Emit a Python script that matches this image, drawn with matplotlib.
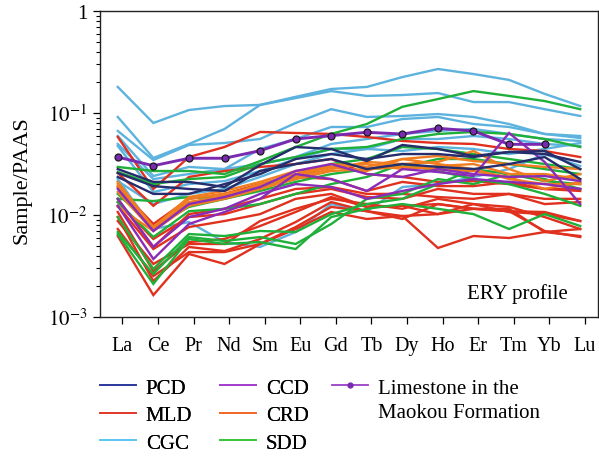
import numpy as np
import matplotlib
matplotlib.use("Agg")
import matplotlib.pyplot as plt
from matplotlib.lines import Line2D

plt.rcParams['font.family'] = ['Liberation Serif', 'DejaVu Serif']
plt.rcParams['mathtext.fontset'] = 'stix'

elements = ["La", "Ce", "Pr", "Nd", "Sm", "Eu", "Gd", "Tb", "Dy", "Ho", "Er", "Tm", "Yb", "Lu"]

pcd = [
    [0.0282, 0.0211, 0.0211, 0.0188, 0.0309, 0.0464, 0.0444, 0.0338, 0.0486, 0.0444, 0.0379, 0.0415, 0.0424, 0.0282],
    [0.0258, 0.0192, 0.0180, 0.0172, 0.0270, 0.0316, 0.0354, 0.0282, 0.0316, 0.0296, 0.0282, 0.0316, 0.0370, 0.0225],
    [0.0236, 0.0161, 0.0161, 0.0201, 0.0252, 0.0354, 0.0396, 0.0354, 0.0396, 0.0396, 0.0370, 0.0415, 0.0396, 0.0331],
]
ccd = [
    [0.0123, 0.00370, 0.00816, 0.0107, 0.0144, 0.0252, 0.0225, 0.0172, 0.0282, 0.0264, 0.0241, 0.0637, 0.0331, 0.0128],
    [0.0180, 0.00697, 0.0128, 0.0150, 0.0188, 0.0270, 0.0316, 0.0252, 0.0236, 0.0282, 0.0252, 0.0236, 0.0241, 0.0215],
    [0.0144, 0.00486, 0.00955, 0.0115, 0.0161, 0.0201, 0.0188, 0.0144, 0.0172, 0.0201, 0.0225, 0.0211, 0.0201, 0.0180],
]
mld = [
    [0.0582, 0.0180, 0.0370, 0.0464, 0.0652, 0.0637, 0.0623, 0.0582, 0.0532, 0.0508, 0.0497, 0.0444, 0.0424, 0.0370],
    [0.0258, 0.0123, 0.0236, 0.0270, 0.0296, 0.0316, 0.0354, 0.0252, 0.0236, 0.0211, 0.0215, 0.0201, 0.0180, 0.0180],
    [0.0188, 0.00816, 0.0144, 0.0161, 0.0201, 0.0236, 0.0225, 0.0172, 0.0211, 0.0192, 0.0192, 0.0211, 0.0180, 0.0172],
    [0.0144, 0.00486, 0.0102, 0.0115, 0.0144, 0.0180, 0.0188, 0.0161, 0.0161, 0.0150, 0.0144, 0.0161, 0.0128, 0.0134],
    [0.0123, 0.00464, 0.00762, 0.00873, 0.0102, 0.0144, 0.0161, 0.0120, 0.0123, 0.0128, 0.0115, 0.0109, 0.0107, 0.00873],
    [0.0107, 0.00282, 0.00543, 0.00582, 0.00780, 0.0107, 0.0150, 0.0120, 0.0123, 0.0102, 0.0128, 0.0120, 0.00955, 0.00729],
    [0.00955, 0.00225, 0.00486, 0.00443, 0.00582, 0.00853, 0.0134, 0.0109, 0.00977, 0.00475, 0.00622, 0.00595, 0.00681, 0.00622],
    [0.00729, 0.00252, 0.00433, 0.00433, 0.00520, 0.00762, 0.0120, 0.0109, 0.00914, 0.0128, 0.0115, 0.0115, 0.00681, 0.00729],
    [0.00622, 0.00164, 0.00415, 0.00331, 0.00520, 0.00729, 0.0107, 0.00914, 0.00977, 0.0102, 0.0115, 0.0109, 0.00697, 0.00608],
    [0.00873, 0.00331, 0.00520, 0.00520, 0.00873, 0.0115, 0.0144, 0.0128, 0.0115, 0.0144, 0.0128, 0.0107, 0.0102, 0.00873],
    [0.0134, 0.00582, 0.00955, 0.0102, 0.0128, 0.0161, 0.0180, 0.0150, 0.0144, 0.0180, 0.0161, 0.0161, 0.0144, 0.0144],
]
crd = [
    [0.0211, 0.00746, 0.0128, 0.0150, 0.0180, 0.0236, 0.0282, 0.0331, 0.0316, 0.0331, 0.0424, 0.0282, 0.0215, 0.0252],
    [0.0192, 0.00729, 0.0134, 0.0154, 0.0201, 0.0252, 0.0316, 0.0296, 0.0354, 0.0379, 0.0338, 0.0316, 0.0296, 0.0282],
    [0.0168, 0.00697, 0.0123, 0.0144, 0.0180, 0.0225, 0.0270, 0.0282, 0.0296, 0.0282, 0.0270, 0.0236, 0.0180, 0.0211],
    [0.0120, 0.00697, 0.0144, 0.0161, 0.0192, 0.0247, 0.0296, 0.0316, 0.0282, 0.0302, 0.0316, 0.0252, 0.0252, 0.0225],
    [0.0201, 0.00762, 0.0150, 0.0172, 0.0211, 0.0270, 0.0296, 0.0270, 0.0354, 0.0316, 0.0282, 0.0225, 0.0201, 0.0201],
]
cgc = [
    [0.180, 0.0798, 0.107, 0.117, 0.120, 0.144, 0.172, 0.180, 0.225, 0.270, 0.241, 0.211, 0.154, 0.117],
    [0.0914, 0.0362, 0.0497, 0.0697, 0.120, 0.140, 0.164, 0.147, 0.150, 0.157, 0.128, 0.128, 0.109, 0.0935],
    [0.0667, 0.0346, 0.0486, 0.0508, 0.0556, 0.0798, 0.109, 0.0914, 0.0935, 0.0977, 0.0914, 0.0780, 0.0623, 0.0595],
    [0.0595, 0.0241, 0.0296, 0.0282, 0.0444, 0.0556, 0.0729, 0.0729, 0.0873, 0.0914, 0.0780, 0.0729, 0.0623, 0.0569],
    [0.0497, 0.0225, 0.0252, 0.0282, 0.0316, 0.0370, 0.0497, 0.0556, 0.0623, 0.0667, 0.0697, 0.0623, 0.0556, 0.0532],
    [0.0475, 0.0168, 0.0201, 0.0215, 0.0270, 0.0354, 0.0444, 0.0444, 0.0556, 0.0556, 0.0595, 0.0556, 0.0497, 0.0475],
    [0.0225, 0.00729, 0.00853, 0.00543, 0.00486, 0.00681, 0.0128, 0.0109, 0.0188, 0.0201, 0.0236, 0.0282, 0.0396, 0.0302],
    [0.0215, 0.0128, 0.0161, 0.0180, 0.0236, 0.0316, 0.0396, 0.0444, 0.0424, 0.0464, 0.0444, 0.0396, 0.0444, 0.0508],
]
sdd = [
    [0.0296, 0.0270, 0.0270, 0.0252, 0.0338, 0.0464, 0.0623, 0.0780, 0.115, 0.137, 0.164, 0.147, 0.131, 0.109],
    [0.0264, 0.0201, 0.0225, 0.0236, 0.0316, 0.0370, 0.0444, 0.0464, 0.0556, 0.0623, 0.0652, 0.0623, 0.0556, 0.0464],
    [0.0161, 0.00762, 0.0120, 0.0144, 0.0188, 0.0225, 0.0316, 0.0354, 0.0464, 0.0444, 0.0396, 0.0354, 0.0316, 0.0282],
    [0.0134, 0.00608, 0.0109, 0.0115, 0.0128, 0.0161, 0.0201, 0.0236, 0.0316, 0.0270, 0.0225, 0.0201, 0.0161, 0.0123],
    [0.00955, 0.00296, 0.00651, 0.00622, 0.00697, 0.00681, 0.0102, 0.0128, 0.0144, 0.0201, 0.0282, 0.0252, 0.0225, 0.0180],
    [0.00651, 0.00211, 0.00582, 0.00520, 0.00543, 0.00464, 0.00955, 0.0115, 0.0128, 0.0115, 0.0102, 0.00729, 0.0102, 0.00780],
    [0.00681, 0.00264, 0.00608, 0.00556, 0.00608, 0.00520, 0.00816, 0.0144, 0.0161, 0.0225, 0.0201, 0.0252, 0.0215, 0.0201],
    [0.0144, 0.0137, 0.0150, 0.0144, 0.0172, 0.0211, 0.0252, 0.0282, 0.0296, 0.0354, 0.0354, 0.0316, 0.0282, 0.0252],
]
limestone = [0.0370, 0.0304, 0.0360, 0.0360, 0.0427, 0.0556, 0.0600, 0.0647, 0.0622, 0.0708, 0.0666, 0.0493, 0.0493, np.nan]

colors = {
    "PCD": "#252d6c", "MLD": "#e0301e", "CGC": "#5db3de",
    "CCD": "#8a2cb8", "CRD": "#f07d1f", "SDD": "#1fb03a",
}
legend_colors = {
    "PCD": "#2e3c9e", "MLD": "#e23b2b", "CGC": "#5cc6f2",
    "CCD": "#a33fd0", "CRD": "#f06a28", "SDD": "#3cc43c",
}
groups = {"PCD": pcd, "MLD": mld, "CGC": cgc, "CCD": ccd, "CRD": crd, "SDD": sdd}
draw_order = ["CGC", "MLD", "SDD", "CRD", "CCD", "PCD"]

fig = plt.figure(figsize=(5.99, 4.60), dpi=100)
ax = fig.add_axes([100/599, 1-318/460, 498/599, 306/460])

x = np.arange(len(elements))
for g in draw_order:
    for s in groups[g]:
        ax.plot(x, s, color=colors[g], lw=1.7, solid_joinstyle='miter', zorder=2)

ax.plot(x, limestone, color="#7a2ab0", lw=2.1, marker='o', ms=5,
        mfc="#7a2ab0", mec="#1a1a1a", mew=0.9, zorder=5)

ax.set_yscale('log')
ax.set_ylim(1e-3, 1)
ax.set_xlim(-0.5, 13.5)
ax.set_xticks(x + 0.13)
ax.set_xticklabels(elements, fontsize=14.5)
ax.set_yticks([1e-3, 1e-2, 1e-1, 1])
ax.set_yticklabels([r"$10^{-3}$", r"$10^{-2}$", r"$10^{-1}$", "1"], fontsize=15)
ax.tick_params(axis='x', which='major', direction='out', length=5, width=0.9, pad=9)
ax.tick_params(axis='y', which='major', direction='out', length=5, width=0.9, pad=4)
ax.tick_params(axis='y', which='minor', direction='out', length=3, width=0.8)
ax.set_ylabel("Sample/PAAS", fontsize=16)
ax.yaxis.set_label_coords(-0.138, 0.45)
for sp in ax.spines.values():
    sp.set_linewidth(1.0)
    sp.set_color("#222222")

ax.text(0.94, 0.078, "ERY profile", transform=ax.transAxes, ha='right', va='center', fontsize=15)

leg_kw = dict(loc='upper left', frameon=False, fontsize=15, handlelength=1.75,
              handletextpad=0.45, labelspacing=0.38, borderaxespad=0, borderpad=0)
col1 = ["PCD", "MLD", "CGC"]
col2 = ["CCD", "CRD", "SDD"]
top = 1 - 379/460
leg1 = fig.legend([Line2D([], [], color=legend_colors[g], lw=1.3) for g in col1], col1,
                  bbox_to_anchor=(100/599, top), **leg_kw)
fig.add_artist(leg1)
leg2 = fig.legend([Line2D([], [], color=legend_colors[g], lw=1.3) for g in col2], col2,
                  bbox_to_anchor=(220/599, top), **leg_kw)
fig.add_artist(leg2)
lh = Line2D([], [], color="#9a3fc8", lw=1.3, marker='o', ms=3.5, mfc="#7a2ab0", mec="#7a2ab0")
leg3 = fig.legend([lh], ["Limestone in the"], bbox_to_anchor=(332/599, top), **leg_kw)
fig.text(378/599, 1-414/460, "Maokou Formation", fontsize=15, ha='left', va='center')

fig.savefig("out.png", dpi=100)
